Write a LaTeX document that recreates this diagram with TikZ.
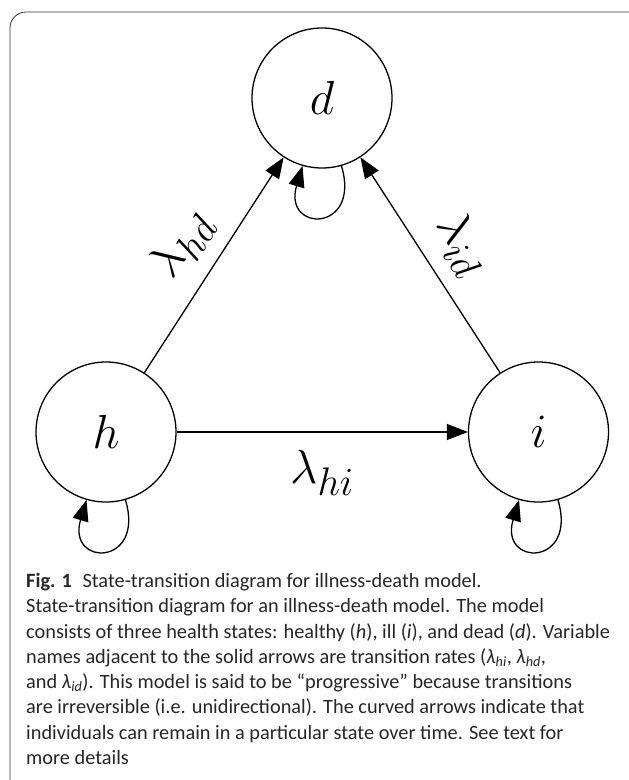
\documentclass[tikz,border=0pt]{standalone}
\usepackage{fontspec}
\newfontfamily\capfont{Carlito}
\usetikzlibrary{arrows.meta}
\newcommand{\bigsym}[1]{\scalebox{1.93}{\Huge$#1$}}
\tikzset{
  state/.style={draw, circle, minimum size=140bp, inner sep=0pt, line width=1.3bp},
  trans/.style={-{Triangle[length=21bp,width=16bp]}, line width=1.3bp},
  rate/.style={inner sep=3bp},
  caption/.style={anchor=north west, inner sep=0pt, align=left, text=black!85,
    font=\capfont\fontsize{20.4}{25.4}\selectfont},
}

\begin{document}
\begin{tikzpicture}[x=1bp,y=1bp]
  \useasboundingbox (0,0) rectangle (629,-780);
  \clip (0,0) rectangle (629,-780);
  \draw[line width=0.8bp, black!80, rounded corners=16bp] (10,-800) -- (10,-12) -- (660,-12);
  % states
  \node[state] (d) at (322,-98) {\bigsym{d}};
  \node[state] (h) at (106,-432) {\bigsym{h}};
  \node[state] (i) at (538.5,-432) {\bigsym{i}};
  % transitions
  \draw[trans] (h) -- (i) node[rate, midway, below=15bp] (lhi) {\bigsym{\lambda_{hi}}};
  \draw[trans] (h) -- (d) node[rate, midway, sloped, above=12bp] (lhd) {\bigsym{\lambda_{hd}}};
  \draw[trans] (i) -- (d) node[rate, midway, sloped, above=12bp] (lid) {\bigsym{\lambda_{id}}};
  % staying in a state
  \foreach \s in {d,h,i}
    \draw[trans] (\s.-74) .. controls +(20,-67) and +(-20,-67) .. (\s.-106);
  % caption
  \node[caption] (cap) at (26,-573) {\textbf{Fig. 1}\hspace{6bp} State-transition diagram for illness-death model.\\
    State-transition diagram for an illness-death model. The model\\
    consists of three health states: healthy (\textit{h}), ill (\textit{i}), and dead (\textit{d}). Variable\\
    names adjacent to the solid arrows are transition rates (\textit{λ\textsubscript{hi}}, \textit{λ\textsubscript{hd}},\\
    and \textit{λ\textsubscript{id}}). This model is said to be “progressive” because transitions\\
    are irreversible (i.e. unidirectional). The curved arrows indicate that\\
    individuals can remain in a particular state over time. See text for\\
    more details};
\end{tikzpicture}
\end{document}
